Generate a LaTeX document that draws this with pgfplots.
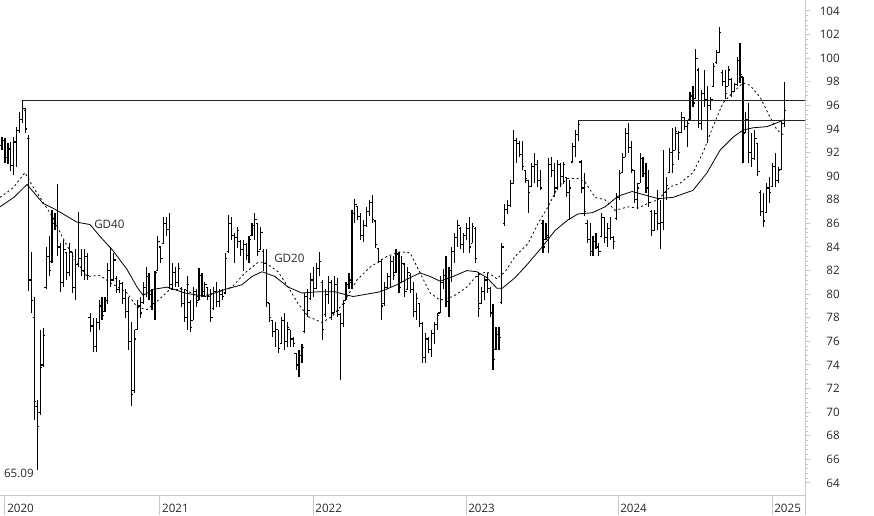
\documentclass[border=0pt]{standalone}
\usepackage{fontspec}
\setmainfont{Open Sans}
\usepackage{pgfplots}
\pgfplotsset{compat=1.18}
\usepackage{pgfplotstable}

\pgfdeclareplotmark{ohlcopen}{\pgfpathmoveto{\pgfqpoint{-\pgfplotmarksize}{0pt}}\pgfpathlineto{\pgfqpoint{0pt}{0pt}}\pgfusepathqstroke}
\pgfdeclareplotmark{ohlcclose}{\pgfpathmoveto{\pgfqpoint{0pt}{0pt}}\pgfpathlineto{\pgfqpoint{\pgfplotmarksize}{0pt}}\pgfusepathqstroke}

% weekly OHLC, w = week index (w=1 ~ first week of 2020)
\pgfplotstableread{
w o h l c
0 92.6 93.3 92.2 93.0
1 93.0 93.2 91.1 91.6
2 91.6 92.8 91.0 92.3
3 92.3 92.9 90.4 90.9
4 90.9 93.3 90.1 92.9
5 92.9 94.2 90.8 93.9
6 93.9 95.4 93.7 94.8
7 94.8 96.43 94.5 95.7
8 95.6 95.8 93.7 94.0
9 93.2 93.5 80.3 81.2
10 81.2 83.6 78.4 79.5
11 78.0 79.8 69.3 70.9
12 70.5 71.0 65.09 68.8
13 70.0 77.0 69.8 73.8
14 74.0 77.1 73.8 76.5
15 80.6 84.0 80.4 83.2
16 83.2 84.9 81.5 82.0
17 82.8 87.1 82.6 86.0
18 86.0 86.9 85.4 85.8
19 85.8 89.3 83.2 84.0
20 84.0 84.3 80.2 81.0
21 81.0 84.6 80.6 83.8
22 83.5 83.5 81.2 81.8
23 81.8 84.3 81.5 83.6
24 83.5 83.5 80.1 80.6
25 80.6 83.8 79.5 82.5
26 82.5 87.0 82.3 83.0
27 83.0 83.8 81.5 82.0
28 82.0 83.8 81.2 83.2
29 83.2 83.5 81.2 81.6
30 78.0 78.4 76.8 77.3
31 77.3 78.0 75.1 75.6
32 75.6 78.0 75.1 77.6
33 77.6 79.5 77.0 79.0
34 79.0 79.8 77.8 78.2
35 78.5 79.8 78.5 79.5
36 79.5 82.6 79.2 82.0
37 82.0 84.0 80.6 81.2
38 81.2 83.5 81.2 82.9
39 81.3 81.5 80.1 80.4
40 80.4 81.2 80.1 80.9
41 80.9 81.0 79.2 79.6
42 79.6 80.4 78.0 78.5
43 78.5 79.8 75.3 76.0
44 76.0 77.6 70.5 71.5
45 71.8 77.0 71.6 76.2
46 77.0 79.5 77.0 79.0
47 79.0 79.8 78.0 78.4
48 79.3 81.0 79.2 80.6
49 80.6 82.3 79.8 81.5
50 81.5 81.8 79.5 80.0
51 80.0 80.4 78.7 79.2
52 79.2 82.0 77.8 81.8
53 82.0 84.9 82.0 84.5
54 84.0 84.0 82.6 83.0
55 84.3 86.5 84.3 86.0
56 86.0 86.5 84.9 85.5
57 85.5 86.9 80.4 80.8
58 80.8 82.6 80.4 81.8
59 81.8 82.3 80.6 81.0
60 81.0 82.6 80.6 82.2
61 80.5 80.6 78.9 79.2
62 79.2 80.4 77.6 78.0
63 78.0 81.5 77.0 80.8
64 79.3 79.5 76.8 77.2
65 77.8 80.6 77.8 80.2
66 80.2 80.4 78.9 79.3
67 79.5 82.2 79.5 81.6
68 81.6 81.8 79.8 80.2
69 80.2 81.0 79.8 80.8
70 80.6 80.6 79.5 79.8
71 79.8 80.4 77.6 78.0
72 78.8 80.6 78.7 80.2
73 80.2 81.0 78.9 79.4
74 79.4 80.4 78.9 80.0
75 80.0 80.4 79.5 79.8
76 80.1 83.5 80.1 83.0
77 83.6 86.7 83.5 86.0
78 86.0 86.5 84.6 85.0
79 85.0 85.2 82.6 84.8
80 84.8 85.7 83.9 85.4
81 84.5 84.6 83.2 83.8
82 83.8 84.6 82.0 84.2
83 84.2 84.3 82.9 83.3
84 83.3 84.9 82.6 84.6
85 85.0 86.0 84.9 85.8
86 85.8 86.9 84.6 86.3
87 86.0 86.0 83.2 83.6
88 83.8 85.7 83.8 85.2
89 83.6 83.8 82.0 82.6
90 82.6 83.8 78.9 79.3
91 79.2 79.2 77.6 78.0
92 77.8 77.8 76.4 76.8
93 76.8 77.6 75.5 77.0
94 77.0 77.0 75.0 75.4
95 75.8 78.1 75.8 77.8
96 77.8 78.4 75.3 76.0
97 76.0 77.6 75.5 77.2
98 77.0 77.0 75.5 76.2
99 76.2 76.4 75.5 75.8
100 75.0 75.0 73.6 74.0
101 74.0 75.3 73.0 74.8
102 74.8 75.8 74.2 75.5
103 76.8 80.1 76.7 79.8
104 79.8 80.4 78.1 78.6
105 79.6 81.8 79.5 81.2
106 81.2 82.3 79.8 80.5
107 80.5 82.6 80.4 82.2
108 82.2 83.6 81.5 82.8
109 81.0 81.2 76.1 77.0
110 78.3 80.4 78.1 80.0
111 80.0 81.5 79.2 81.0
112 81.0 81.2 77.8 78.4
113 78.4 81.5 78.4 80.8
114 80.8 81.4 78.1 78.6
115 78.3 78.4 72.7 77.5
116 77.5 79.5 77.2 79.2
117 79.5 81.0 79.5 80.8
118 80.8 81.8 80.4 81.2
119 81.0 87.1 80.4 86.8
120 86.8 88.1 86.0 87.6
121 87.4 87.4 86.3 86.6
122 86.6 86.9 84.6 85.0
123 85.0 86.3 84.4 85.8
124 85.8 87.4 85.7 87.0
125 87.0 88.0 86.6 87.8
126 87.8 88.4 86.0 86.3
127 86.2 86.3 83.9 84.2
128 83.9 83.9 82.6 82.8
129 82.8 83.0 77.8 79.0
130 79.2 81.0 79.0 80.6
131 80.6 81.8 80.4 81.5
132 81.5 83.2 80.6 82.8
133 82.8 83.2 81.2 81.6
134 81.8 83.8 81.8 83.4
135 83.4 83.6 80.1 80.6
136 81.0 83.2 81.0 82.6
137 82.5 82.6 79.8 80.2
138 80.4 82.3 80.4 81.8
139 81.6 81.8 80.1 80.4
140 80.4 81.0 78.1 78.5
141 78.5 80.1 77.8 79.6
142 79.2 79.2 77.2 77.5
143 77.5 77.6 74.2 74.6
144 74.6 76.7 74.2 76.2
145 76.2 76.4 75.0 75.3
146 75.3 77.0 74.7 76.7
147 76.7 77.6 75.8 77.4
148 77.4 78.4 77.0 78.2
149 78.4 81.5 78.4 81.0
150 81.0 82.1 80.4 81.6
151 81.6 83.2 78.9 79.4
152 79.4 82.3 78.1 82.0
153 82.0 84.0 81.0 83.6
154 83.6 85.2 82.6 84.8
155 84.8 86.3 84.0 85.8
156 85.6 85.7 83.8 84.2
157 84.2 85.2 83.5 85.0
158 85.0 86.0 84.6 85.6
159 85.6 86.5 83.5 84.0
160 84.3 86.0 84.3 85.7
161 85.6 85.7 82.6 83.0
162 81.5 81.8 78.1 78.8
163 79.2 80.6 79.2 80.2
164 80.2 81.5 79.5 81.2
165 81.2 81.8 80.1 80.5
166 80.5 80.6 78.1 78.4
167 78.4 79.2 73.6 74.5
168 75.3 77.2 75.3 76.6
169 76.6 77.2 75.3 76.3
170 79.3 84.3 79.2 84.0
171 86.0 87.6 85.8 87.2
172 87.2 88.0 86.8 87.5
173 87.5 89.7 87.4 89.4
174 89.4 93.9 89.4 93.0
175 93.0 93.2 91.1 92.8
176 92.8 93.0 91.6 91.8
177 91.8 93.0 90.5 90.8
178 90.5 90.5 89.4 89.8
179 89.6 89.7 86.9 88.6
180 89.1 91.1 89.1 90.8
181 90.8 92.0 89.4 91.0
182 91.0 91.4 89.1 89.6
183 89.6 90.5 88.8 89.0
184 86.0 86.3 83.5 84.0
185 84.6 86.0 84.6 85.0
186 84.8 91.5 83.5 91.0
187 91.0 91.6 89.9 90.5
188 90.5 91.1 88.2 89.0
189 89.0 91.4 88.8 91.0
190 91.0 91.1 89.1 90.0
191 90.0 91.2 89.3 91.0
192 89.9 89.9 88.2 88.6
193 88.6 89.7 86.3 89.0
194 91.2 92.8 91.1 92.5
195 92.5 93.9 91.6 93.5
196 93.5 94.76 93.0 94.4
197 91.2 91.4 88.6 89.0
198 89.0 90.3 86.6 87.0
199 86.0 86.3 84.3 84.6
200 84.6 86.0 83.2 83.6
201 83.6 84.9 83.2 84.5
202 84.5 85.2 83.8 84.0
203 84.0 84.3 83.2 83.6
204 84.9 86.9 84.9 86.5
205 86.5 86.5 84.3 84.8
206 84.8 86.0 84.0 85.6
207 85.6 86.5 84.6 84.8
208 84.8 84.9 83.8 84.5
209 86.4 88.6 86.3 88.2
210 88.2 90.5 88.0 90.2
211 90.3 92.0 90.3 91.6
212 91.6 94.1 91.6 93.6
213 93.6 94.5 92.0 92.4
214 92.4 93.0 90.3 90.6
215 90.5 90.5 87.7 88.0
216 88.0 89.4 87.2 89.0
217 89.4 92.0 89.4 91.5
218 91.5 91.6 89.9 90.2
219 90.2 91.1 88.6 89.0
220 89.0 90.5 87.4 87.8
221 87.0 87.1 84.9 85.4
222 85.4 87.1 85.4 86.8
223 86.8 88.8 85.4 86.0
224 86.0 88.0 83.8 86.1
225 86.1 92.2 85.4 88.6
226 88.6 89.9 88.0 89.2
227 90.3 92.4 90.3 92.0
228 92.0 94.1 90.3 91.0
229 92.2 94.2 92.2 93.8
230 93.6 93.8 91.4 92.0
231 93.7 95.4 93.7 95.0
232 95.0 95.0 93.9 94.2
233 94.2 94.8 92.5 94.5
234 94.8 97.1 94.8 96.8
235 96.8 97.6 95.9 96.2
236 96.6 100.8 96.5 100.0
237 99.0 99.2 94.1 94.5
238 94.5 97.3 93.9 97.0
239 97.0 99.0 95.9 96.5
240 96.5 97.6 92.8 96.0
241 96.0 96.7 95.6 96.5
242 97.6 99.6 97.6 99.3
243 99.6 100.7 99.5 100.5
244 100.5 102.6 100.4 102.2
245 98.8 99.0 97.6 98.0
246 98.0 99.0 96.5 97.0
247 97.6 99.3 97.6 99.0
248 98.2 98.3 96.7 97.2
249 97.2 97.9 97.1 97.8
250 97.8 100.1 97.6 99.8
251 99.8 101.3 97.9 98.6
252 98.4 98.4 91.1 93.6
253 93.7 95.4 93.7 94.8
254 94.8 96.2 91.1 92.0
255 92.0 93.7 90.8 91.5
256 91.5 93.9 91.4 93.2
257 92.8 92.8 90.0 90.4
258 88.6 88.8 86.6 87.0
259 87.0 88.6 85.7 86.2
260 86.9 89.4 86.9 89.0
261 89.0 89.9 87.7 88.6
262 89.1 91.1 89.1 90.8
263 90.8 92.0 89.1 89.6
264 89.6 90.8 89.4 90.5
265 90.6 94.8 90.5 94.5
266 94.5 98.0 94.2 95.6
}\ohlc

% GD40 (40-week average)
\pgfplotstableread{
w v
-0.7 87.4
4.0 88.2
8.5 89.3
13.9 87.7
18.0 87.2
25.5 86.1
29.9 85.9
33.3 84.9
37.7 83.7
42.5 82.1
45.9 80.6
48.0 79.9
51.3 80.4
56.1 80.6
62.2 80.1
69.0 79.8
75.8 80.4
81.6 80.8
85.0 81.5
88.4 81.9
92.8 81.5
97.3 80.6
102.0 80.1
107.5 80.2
113.2 80.2
119.4 79.8
128.6 80.2
134.3 80.8
138.8 81.4
142.2 81.8
145.6 81.5
149.0 81.1
153.4 81.5
158.1 82.0
161.5 81.9
164.9 81.4
168.3 80.5
170.1 80.5
174.5 81.4
178.9 82.6
183.7 84.0
188.1 85.4
192.5 86.3
195.9 86.8
200.7 86.9
205.1 87.4
209.5 88.3
214.3 88.7
218.7 88.4
223.1 88.1
228.2 88.2
235.0 88.8
239.8 90.3
244.2 92.2
248.6 93.3
252.0 93.9
255.4 94.1
260.2 94.2
266.3 94.8
}\gdforty

% GD20 (20-week average)
\pgfplotstableread{
w v
-0.7 88.2
3.7 89.0
7.8 90.3
10.5 89.1
12.9 88.2
17.3 86.5
20.4 84.9
24.1 83.2
28.9 81.5
33.3 81.6
36.7 81.0
42.5 80.1
45.9 78.9
49.3 78.7
52.7 79.4
57.1 80.4
62.2 80.4
66.6 79.8
72.4 80.1
78.2 80.6
82.6 81.8
87.1 82.7
89.4 82.7
93.9 81.9
97.3 80.6
100.7 79.2
104.1 78.1
108.8 77.6
112.2 78.1
116.0 79.2
120.7 81.2
125.2 82.3
130.9 83.2
135.4 83.6
138.8 83.5
142.2 81.8
145.6 80.1
149.0 79.5
153.4 79.8
158.1 80.6
161.5 81.6
164.9 81.9
168.3 81.3
171.1 81.9
174.5 83.2
178.9 84.3
182.3 86.0
185.7 87.4
189.1 89.1
192.5 89.8
195.9 89.8
198.3 89.5
201.7 88.2
205.1 88.0
208.5 87.1
212.9 87.4
216.3 87.3
219.7 87.7
223.1 88.0
227.2 89.1
230.6 89.4
235.0 90.3
238.4 92.0
241.8 94.2
245.2 96.2
248.6 97.1
252.0 97.9
254.4 97.7
257.8 96.7
261.2 95.0
263.6 93.9
266.3 93.4
}\gdtwenty

\definecolor{axgray}{RGB}{200,200,200}
\definecolor{txt}{RGB}{40,40,40}

\begin{document}
\begin{tikzpicture}
\useasboundingbox (0,-15pt) rectangle (655.5pt,371.25pt);
\begin{axis}[
  at={(0,0)}, anchor=south west,
  scale only axis, width=603.75pt, height=371.25pt,
  xmin=-0.7, xmax=273.1, ymin=62.98, ymax=104.93,
  clip=false,
  axis x line*=bottom, axis y line*=right,
  axis line style={draw=axgray, line width=0.75pt, -},
  tick style={draw=axgray, line width=0.75pt},
  tick align=outside,
  major tick length=3.75pt, minor tick length=2.25pt,
  xtick={1,53.7,105.8,157.8,209.5,261.9},
  xticklabels={2020,2021,2022,2023,2024,2025},
  minor x tick num=11,
  extra x ticks={1,53.7,105.8,157.8,209.5,261.9},
  extra x tick labels={},
  extra x tick style={major tick length=15pt},
  ytick={64,66,...,104},
  minor y tick num=4,
  /pgf/number format/assume math mode=true,
  every tick label/.append style={font=\fontsize{8.7}{10}\selectfont, text=txt},
  xticklabel style={anchor=north west, inner sep=0pt, xshift=1.5pt, yshift=-2.8pt},
  yticklabel style={anchor=east, inner sep=0pt, xshift=22.5pt},
]
% high-low bars
\addplot[black, line width=0.85pt, quiver={u=0, v=\thisrow{h}-\thisrow{l}}]
  table[x=w, y=l] {\ohlc};
% open ticks
\addplot[only marks, mark=ohlcopen, mark size=1.4pt, mark options={black, line width=0.85pt}]
  table[x=w, y=o] {\ohlc};
% close ticks
\addplot[only marks, mark=ohlcclose, mark size=1.4pt, mark options={black, line width=0.85pt}]
  table[x=w, y=c] {\ohlc};
% moving averages
\addplot[black, line width=0.6pt] table[x=w, y=v] {\gdforty};
\addplot[black, line width=0.6pt, dash pattern=on 1.5pt off 2pt] table[x=w, y=v] {\gdtwenty};
% resistance lines
\addplot[black!85, line width=0.75pt] coordinates {(7,96.43) (273.1,96.43)};
\addplot[black!85, line width=0.75pt] coordinates {(196,94.76) (273.1,94.76)};
% labels
\node[anchor=east, inner sep=0pt, text=txt, font=\fontsize{8.7}{10}\selectfont] at (axis cs:10.86,64.85) {65.09};
\node[anchor=west, inner sep=0pt, text=txt, font=\fontsize{8.7}{10}\selectfont] at (axis cs:31.27,85.95) {GD40};
\node[anchor=west, inner sep=0pt, text=txt, font=\fontsize{8.7}{10}\selectfont] at (axis cs:92.5,83.07) {GD20};
\draw[axgray, line width=0.75pt] (rel axis cs:1,0) -- ++(0pt,-15pt);
\end{axis}
\end{tikzpicture}
\end{document}
